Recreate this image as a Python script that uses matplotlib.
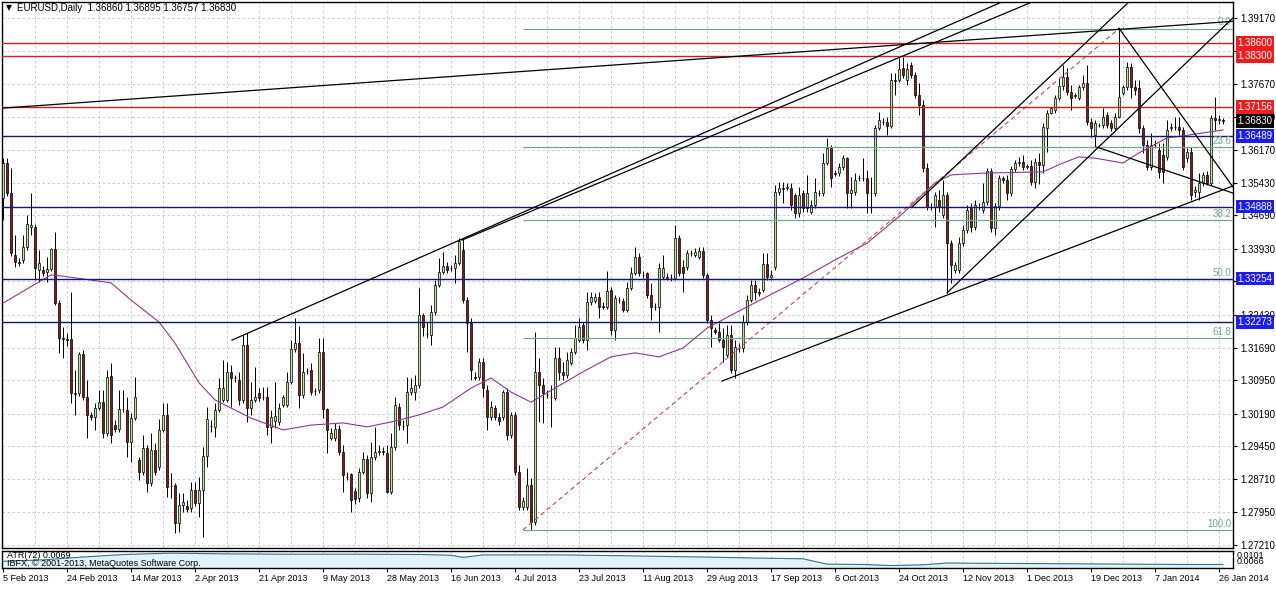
import matplotlib
matplotlib.use('Agg')
import matplotlib.pyplot as plt
import numpy as np

plt.rcParams['font.family'] = ['Liberation Sans', 'DejaVu Sans']

# daily EURUSD bars
opens = [
    1.3509, 1.3588, 1.3520, 1.3380, 1.3363, 1.3368, 1.3398, 1.3443, 1.3443, 1.3345,
    1.3345, 1.3341, 1.3347, 1.3393, 1.3270, 1.3191, 1.3188, 1.3188, 1.3066, 1.3066,
    1.3154, 1.3057, 1.3016, 1.3011, 1.3032, 1.3045, 1.2975, 1.3104, 1.2993, 1.2984,
    1.3030, 1.3027, 1.2955, 1.3009, 1.2914, 1.2887, 1.2941, 1.2862, 1.2937, 1.2898,
    1.2982, 1.3016, 1.2855, 1.2857, 1.2771, 1.2812, 1.2809, 1.2805, 1.2846, 1.2816,
    1.2846, 1.2923, 1.2991, 1.2989, 1.3027, 1.3050, 1.3050, 1.3114, 1.3100, 1.3095,
    1.3050, 1.3175, 1.3032, 1.3050, 1.3066, 1.3057, 1.3057, 1.2989, 1.3002, 1.3000,
    1.3039, 1.3039, 1.3091, 1.3166, 1.3179, 1.3061, 1.3116, 1.3118, 1.3070, 1.3073,
    1.3159, 1.3030, 1.2964, 1.2964, 1.2984, 1.2932, 1.2875, 1.2882, 1.2843, 1.2827,
    1.2887, 1.2916, 1.2839, 1.2921, 1.2932, 1.2934, 1.2930, 1.2841, 1.2944, 1.3034,
    1.2991, 1.2993, 1.3068, 1.3068, 1.3084, 1.3243, 1.3200, 1.3197, 1.3250, 1.3311,
    1.3341, 1.3354, 1.3350, 1.3350, 1.3361, 1.3391, 1.3277, 1.3225, 1.3102, 1.3102,
    1.3136, 1.3073, 1.3011, 1.3032, 1.3011, 1.3011, 1.3068, 1.2971, 1.3016, 1.2887,
    1.2807, 1.2807, 1.2857, 1.2773, 1.3114, 1.3084, 1.3061, 1.3057, 1.3055, 1.3145,
    1.3114, 1.3107, 1.3134, 1.3159, 1.3186, 1.3220, 1.3186, 1.3272, 1.3275, 1.3284,
    1.3263, 1.3261, 1.3300, 1.3209, 1.3277, 1.3275, 1.3254, 1.3304, 1.3338, 1.3375,
    1.3334, 1.3338, 1.3288, 1.3261, 1.3261, 1.3329, 1.3329, 1.3327, 1.3327, 1.3418,
    1.3352, 1.3352, 1.3384, 1.3379, 1.3375, 1.3388, 1.3334, 1.3232, 1.3209, 1.3204,
    1.3186, 1.3152, 1.3197, 1.3118, 1.3168, 1.3168, 1.3227, 1.3277, 1.3311, 1.3295,
    1.3300, 1.3359, 1.3329, 1.3352, 1.3522, 1.3531, 1.3531, 1.3531, 1.3515, 1.3475,
    1.3520, 1.3486, 1.3477, 1.3493, 1.3520, 1.3520, 1.3588, 1.3622, 1.3565, 1.3565,
    1.3579, 1.3600, 1.3520, 1.3522, 1.3554, 1.3554, 1.3554, 1.3520, 1.3520, 1.3668,
    1.3681, 1.3681, 1.3672, 1.3776, 1.3776, 1.3804, 1.3776, 1.3810, 1.3788, 1.3743,
    1.3720, 1.3577, 1.3488, 1.3488, 1.3504, 1.3470, 1.3515, 1.3406, 1.3345, 1.3345,
    1.3406, 1.3436, 1.3486, 1.3443, 1.3488, 1.3481, 1.3500, 1.3570, 1.3440, 1.3490,
    1.3554, 1.3549, 1.3520, 1.3575, 1.3588, 1.3590, 1.3579, 1.3581, 1.3545, 1.3590,
    1.3584, 1.3668, 1.3701, 1.3708, 1.3736, 1.3763, 1.3783, 1.3749, 1.3740, 1.3736,
    1.3761, 1.3770, 1.3681, 1.3652, 1.3674, 1.3674, 1.3697, 1.3679, 1.3668, 1.3693,
    1.3747, 1.3761, 1.3806, 1.3761, 1.3758, 1.3668, 1.3629, 1.3579, 1.3629, 1.3618,
    1.3606, 1.3602, 1.3668, 1.3670, 1.3670, 1.3663, 1.3600, 1.3613, 1.3522, 1.3522,
    1.3543, 1.3561, 1.3543, 1.3690, 1.3686, 1.3686,
]
highs = [
    1.3600, 1.3600, 1.3577, 1.3425, 1.3372, 1.3425, 1.3470, 1.3520, 1.3450, 1.3391,
    1.3354, 1.3375, 1.3395, 1.3431, 1.3277, 1.3216, 1.3202, 1.3295, 1.3118, 1.3159,
    1.3163, 1.3095, 1.3023, 1.3043, 1.3073, 1.3073, 1.3118, 1.3134, 1.3005, 1.3073,
    1.3073, 1.3057, 1.3020, 1.3102, 1.2921, 1.2971, 1.2948, 1.2975, 1.2952, 1.3007,
    1.3043, 1.3043, 1.2884, 1.2862, 1.2839, 1.2839, 1.2823, 1.2864, 1.2864, 1.2875,
    1.2944, 1.3034, 1.3005, 1.3043, 1.3100, 1.3141, 1.3136, 1.3129, 1.3107, 1.3114,
    1.3198, 1.3202, 1.3091, 1.3125, 1.3077, 1.3080, 1.3080, 1.3027, 1.3091, 1.3043,
    1.3061, 1.3114, 1.3186, 1.3236, 1.3218, 1.3157, 1.3123, 1.3134, 1.3077, 1.3191,
    1.3191, 1.3032, 1.2986, 1.2998, 1.2993, 1.2948, 1.2887, 1.2884, 1.2850, 1.2896,
    1.2932, 1.2925, 1.2955, 1.2989, 1.2948, 1.2944, 1.2948, 1.2975, 1.3057, 1.3043,
    1.3005, 1.3102, 1.3100, 1.3107, 1.3304, 1.3248, 1.3227, 1.3266, 1.3322, 1.3372,
    1.3386, 1.3363, 1.3356, 1.3379, 1.3418, 1.3418, 1.3284, 1.3236, 1.3114, 1.3145,
    1.3145, 1.3084, 1.3048, 1.3039, 1.3020, 1.3073, 1.3077, 1.3023, 1.3023, 1.2902,
    1.2830, 1.2896, 1.2873, 1.3204, 1.3145, 1.3100, 1.3073, 1.3084, 1.3170, 1.3170,
    1.3136, 1.3159, 1.3168, 1.3220, 1.3236, 1.3227, 1.3295, 1.3295, 1.3293, 1.3295,
    1.3272, 1.3343, 1.3307, 1.3288, 1.3284, 1.3281, 1.3318, 1.3352, 1.3398, 1.3384,
    1.3343, 1.3341, 1.3316, 1.3270, 1.3361, 1.3379, 1.3338, 1.3336, 1.3447, 1.3425,
    1.3368, 1.3391, 1.3391, 1.3395, 1.3398, 1.3398, 1.3338, 1.3243, 1.3216, 1.3225,
    1.3213, 1.3220, 1.3220, 1.3186, 1.3179, 1.3243, 1.3288, 1.3322, 1.3322, 1.3304,
    1.3384, 1.3384, 1.3345, 1.3538, 1.3545, 1.3545, 1.3543, 1.3543, 1.3520, 1.3534,
    1.3527, 1.3561, 1.3504, 1.3554, 1.3527, 1.3611, 1.3645, 1.3629, 1.3572, 1.3588,
    1.3606, 1.3602, 1.3556, 1.3565, 1.3561, 1.3600, 1.3572, 1.3556, 1.3674, 1.3704,
    1.3690, 1.3693, 1.3792, 1.3792, 1.3826, 1.3829, 1.3815, 1.3817, 1.3795, 1.3770,
    1.3731, 1.3588, 1.3497, 1.3522, 1.3527, 1.3549, 1.3522, 1.3413, 1.3363, 1.3420,
    1.3447, 1.3493, 1.3497, 1.3504, 1.3497, 1.3543, 1.3577, 1.3577, 1.3497, 1.3561,
    1.3558, 1.3561, 1.3581, 1.3595, 1.3602, 1.3606, 1.3586, 1.3595, 1.3600, 1.3611,
    1.3679, 1.3708, 1.3715, 1.3743, 1.3781, 1.3810, 1.3804, 1.3765, 1.3747, 1.3765,
    1.3788, 1.3810, 1.3690, 1.3686, 1.3679, 1.3713, 1.3704, 1.3686, 1.3701, 1.3894,
    1.3765, 1.3817, 1.3815, 1.3776, 1.3776, 1.3674, 1.3640, 1.3656, 1.3640, 1.3633,
    1.3633, 1.3686, 1.3679, 1.3693, 1.3693, 1.3670, 1.3622, 1.3624, 1.3536, 1.3565,
    1.3568, 1.3570, 1.3697, 1.3738, 1.3697, 1.36895,
]
lows = [
    1.3459, 1.3513, 1.3377, 1.3352, 1.3354, 1.3361, 1.3391, 1.3425, 1.3322, 1.3318,
    1.3331, 1.3318, 1.3343, 1.3266, 1.3156, 1.3145, 1.3172, 1.3043, 1.3016, 1.3059,
    1.3050, 1.2964, 1.3005, 1.2982, 1.3027, 1.2964, 1.2968, 1.2952, 1.2977, 1.2977,
    1.3023, 1.2921, 1.2909, 1.3005, 1.2868, 1.2880, 1.2841, 1.2855, 1.2880, 1.2891,
    1.2977, 1.2830, 1.2828, 1.2748, 1.2750, 1.2795, 1.2796, 1.2795, 1.2809, 1.2784,
    1.2739, 1.2898, 1.2977, 1.2966, 1.3023, 1.3045, 1.3045, 1.3034, 1.3091, 1.3039,
    1.3043, 1.3000, 1.3016, 1.3045, 1.3048, 1.3050, 1.2971, 1.2952, 1.2986, 1.2993,
    1.3034, 1.3034, 1.3086, 1.3159, 1.3032, 1.3055, 1.3109, 1.3061, 1.3061, 1.3066,
    1.3009, 1.2930, 1.2959, 1.2957, 1.2925, 1.2841, 1.2868, 1.2795, 1.2814, 1.2818,
    1.2882, 1.2827, 1.2818, 1.2914, 1.2925, 1.2925, 1.2839, 1.2837, 1.2937, 1.2982,
    1.2982, 1.2952, 1.3061, 1.3050, 1.3077, 1.3195, 1.3191, 1.3175, 1.3243, 1.3307,
    1.3336, 1.3338, 1.3343, 1.3316, 1.3356, 1.3270, 1.3159, 1.3095, 1.3095, 1.3095,
    1.3057, 1.2982, 1.3005, 1.3005, 1.2993, 1.3005, 1.2959, 1.2964, 1.2880, 1.2800,
    1.2800, 1.2800, 1.2755, 1.2766, 1.3000, 1.2998, 1.3055, 1.2989, 1.3050, 1.3095,
    1.3095, 1.3100, 1.3129, 1.3154, 1.3182, 1.3179, 1.3163, 1.3266, 1.3270, 1.3236,
    1.3256, 1.3256, 1.3197, 1.3186, 1.3270, 1.3250, 1.3250, 1.3300, 1.3334, 1.3331,
    1.3327, 1.3282, 1.3232, 1.3254, 1.3204, 1.3325, 1.3322, 1.3320, 1.3322, 1.3331,
    1.3295, 1.3345, 1.3377, 1.3375, 1.3370, 1.3327, 1.3225, 1.3170, 1.3200, 1.3182,
    1.3136, 1.3148, 1.3111, 1.3100, 1.3159, 1.3159, 1.3220, 1.3272, 1.3277, 1.3286,
    1.3295, 1.3322, 1.3322, 1.3345, 1.3515, 1.3497, 1.3527, 1.3481, 1.3463, 1.3466,
    1.3477, 1.3477, 1.3472, 1.3486, 1.3513, 1.3513, 1.3584, 1.3534, 1.3558, 1.3558,
    1.3572, 1.3486, 1.3486, 1.3515, 1.3547, 1.3547, 1.3474, 1.3474, 1.3513, 1.3663,
    1.3674, 1.3652, 1.3668, 1.3743, 1.3772, 1.3781, 1.3765, 1.3781, 1.3736, 1.3697,
    1.3568, 1.3481, 1.3481, 1.3443, 1.3477, 1.3463, 1.3293, 1.3316, 1.3338, 1.3338,
    1.3400, 1.3429, 1.3432, 1.3436, 1.3481, 1.3474, 1.3493, 1.3432, 1.3425, 1.3481,
    1.3543, 1.3504, 1.3513, 1.3568, 1.3581, 1.3572, 1.3575, 1.3538, 1.3531, 1.3540,
    1.3565, 1.3613, 1.3699, 1.3701, 1.3731, 1.3754, 1.3743, 1.3708, 1.3736, 1.3731,
    1.3754, 1.3674, 1.3647, 1.3624, 1.3670, 1.3668, 1.3668, 1.3661, 1.3661, 1.3690,
    1.3743, 1.3754, 1.3736, 1.3743, 1.3656, 1.3611, 1.3572, 1.3572, 1.3622, 1.3554,
    1.3543, 1.3595, 1.3661, 1.3663, 1.3652, 1.3572, 1.3591, 1.3504, 1.3511, 1.3504,
    1.3536, 1.3538, 1.3538, 1.3663, 1.3677, 1.36757,
]
closes = [
    1.3588, 1.3520, 1.3384, 1.3363, 1.3361, 1.3398, 1.3450, 1.3448, 1.3350, 1.3361,
    1.3338, 1.3347, 1.3393, 1.3270, 1.3191, 1.3188, 1.3186, 1.3066, 1.3064, 1.3154,
    1.3057, 1.3016, 1.3011, 1.3032, 1.3045, 1.2975, 1.3102, 1.2971, 1.2984, 1.3030,
    1.3029, 1.2955, 1.3009, 1.3057, 1.2887, 1.2941, 1.2862, 1.2937, 1.2887, 1.2982,
    1.3016, 1.2853, 1.2854, 1.2771, 1.2812, 1.2818, 1.2803, 1.2846, 1.2816, 1.2846,
    1.2923, 1.3007, 1.2990, 1.3027, 1.3077, 1.3077, 1.3114, 1.3100, 1.3099, 1.3050,
    1.3175, 1.3032, 1.3050, 1.3057, 1.3054, 1.3056, 1.2989, 1.3011, 1.3014, 1.3032,
    1.3057, 1.3091, 1.3166, 1.3179, 1.3061, 1.3114, 1.3115, 1.3068, 1.3071, 1.3159,
    1.3030, 1.2982, 1.2975, 1.2984, 1.2932, 1.2880, 1.2876, 1.2823, 1.2825, 1.2887,
    1.2916, 1.2839, 1.2921, 1.2932, 1.2934, 1.2933, 1.2841, 1.2944, 1.3039, 1.2993,
    1.2990, 1.3068, 1.3077, 1.3084, 1.3243, 1.3216, 1.3199, 1.3250, 1.3311, 1.3341,
    1.3354, 1.3345, 1.3349, 1.3361, 1.3411, 1.3277, 1.3225, 1.3118, 1.3101, 1.3136,
    1.3077, 1.3011, 1.3034, 1.3011, 1.3002, 1.3068, 1.2971, 1.3016, 1.2887, 1.2807,
    1.2821, 1.2857, 1.2773, 1.3114, 1.3084, 1.3066, 1.3062, 1.3056, 1.3145, 1.3114,
    1.3107, 1.3141, 1.3159, 1.3191, 1.3216, 1.3186, 1.3272, 1.3284, 1.3284, 1.3261,
    1.3262, 1.3297, 1.3209, 1.3281, 1.3276, 1.3254, 1.3304, 1.3338, 1.3375, 1.3338,
    1.3333, 1.3288, 1.3261, 1.3260, 1.3350, 1.3350, 1.3328, 1.3326, 1.3418, 1.3338,
    1.3338, 1.3384, 1.3383, 1.3386, 1.3388, 1.3334, 1.3232, 1.3213, 1.3204, 1.3186,
    1.3170, 1.3197, 1.3118, 1.3170, 1.3167, 1.3227, 1.3277, 1.3311, 1.3295, 1.3294,
    1.3359, 1.3329, 1.3334, 1.3522, 1.3531, 1.3530, 1.3534, 1.3493, 1.3475, 1.3515,
    1.3486, 1.3520, 1.3493, 1.3522, 1.3519, 1.3588, 1.3622, 1.3554, 1.3564, 1.3579,
    1.3600, 1.3520, 1.3527, 1.3549, 1.3553, 1.3555, 1.3520, 1.3519, 1.3668, 1.3686,
    1.3680, 1.3672, 1.3776, 1.3775, 1.3801, 1.3788, 1.3801, 1.3788, 1.3743, 1.3720,
    1.3577, 1.3488, 1.3487, 1.3515, 1.3488, 1.3515, 1.3406, 1.3356, 1.3357, 1.3406,
    1.3436, 1.3481, 1.3443, 1.3493, 1.3487, 1.3500, 1.3570, 1.3440, 1.3490, 1.3554,
    1.3549, 1.3520, 1.3575, 1.3588, 1.3590, 1.3579, 1.3581, 1.3545, 1.3590, 1.3584,
    1.3670, 1.3701, 1.3713, 1.3736, 1.3763, 1.3783, 1.3749, 1.3736, 1.3742, 1.3761,
    1.3770, 1.3681, 1.3668, 1.3679, 1.3675, 1.3693, 1.3674, 1.3668, 1.3693, 1.3738,
    1.3761, 1.3806, 1.3761, 1.3754, 1.3668, 1.3629, 1.3579, 1.3629, 1.3628, 1.3568,
    1.3568, 1.3663, 1.3670, 1.3669, 1.3663, 1.3579, 1.3613, 1.3515, 1.3527, 1.3543,
    1.3561, 1.3543, 1.3690, 1.3686, 1.3688, 1.3683,
]

# moving average (purple line), sampled along the curve
ma_bars = [0, 12, 15, 27, 32, 39, 43, 49, 53, 62, 70, 77, 85, 91, 97, 104, 110, 117, 122, 127,
           132, 138, 145, 152, 158, 164, 170, 176, 184, 200, 208, 216, 225, 233, 237, 245, 260,
           265, 269, 273, 280, 284, 291, 296, 305]
ma_vals = [1.3270, 1.3334, 1.3331, 1.3316, 1.3277, 1.3227, 1.3179, 1.3089, 1.3050, 1.3009,
           1.2982, 1.2993, 1.2998, 1.2989, 1.3000, 1.3016, 1.3034, 1.3077, 1.3100, 1.3068,
           1.3045, 1.3077, 1.3114, 1.3148, 1.3157, 1.3148, 1.3168, 1.3213, 1.3252, 1.3327,
           1.3368, 1.3406, 1.3474, 1.3543, 1.3561, 1.3565, 1.3568, 1.3588, 1.3602, 1.3599,
           1.3588, 1.3611, 1.3645, 1.3651, 1.3663]

# ATR(72) sub window
atr_bars = [0, 10, 20, 30, 42, 55, 70, 90, 105, 112, 115, 120, 140, 158, 175, 189, 200, 206,
            215, 222, 230, 236, 250, 265, 280, 295, 305]
atr_vals = [0.0078, 0.0082, 0.0090, 0.0097, 0.0101, 0.0099, 0.0098, 0.0098, 0.0097, 0.0095,
            0.0089, 0.0096, 0.0096, 0.0093, 0.0090, 0.0087, 0.0085, 0.0070, 0.0069, 0.0066,
            0.0068, 0.0073, 0.0072, 0.0071, 0.0070, 0.0069, 0.0069]

price_ticks = [1.39170, 1.38430, 1.37670, 1.36930, 1.36170, 1.35430, 1.34690, 1.33930, 1.33190,
               1.32430, 1.31690, 1.30950, 1.30190, 1.29450, 1.28710, 1.27950, 1.27210]
hidden_ticks = [1.38430, 1.33190]   # fully covered by the level tags
date_labels = ['5 Feb 2013', '24 Feb 2013', '14 Mar 2013', '2 Apr 2013', '21 Apr 2013',
               '9 May 2013', '28 May 2013', '16 Jun 2013', '4 Jul 2013', '23 Jul 2013',
               '11 Aug 2013', '29 Aug 2013', '17 Sep 2013', '6 Oct 2013', '24 Oct 2013',
               '12 Nov 2013', '1 Dec 2013', '19 Dec 2013', '7 Jan 2014', '26 Jan 2014']
date_bars = list(range(0, 305, 16))

red_levels = [1.38600, 1.38300, 1.37156]
blue_levels = [1.36489, 1.34888, 1.33254, 1.32273]
last_price = 1.36830

fib_start = (130, 1.2755)
fib_end = (279, 1.3893)
fib_ratios = [0.0, 23.6, 38.2, 50.0, 61.8, 100.0]

# hand drawn trend lines: (bar, price) anchors, extended to the right
trend_lines = [
    ((-1, 1.3712), (305, 1.3908)),
    ((57.25, 1.3186), (225.5, 1.3857)),
    ((114.75, 1.3413), (225.5, 1.3833)),
    ((179.75, 1.3093), (307.5, 1.3536)),
    ((236, 1.3293), (306.75, 1.3911)),
    ((227.25, 1.3488), (276.75, 1.3913)),
    ((279, 1.3894), (306.75, 1.3543)),
    ((273.5, 1.3624), (306.75, 1.3522)),
]

W, H = 1276, 589
fig = plt.figure(figsize=(W / 100, H / 100), dpi=100)
ax = fig.add_axes([2 / W, 1 - 548 / H, 1231 / W, 546 / H])
ax2 = fig.add_axes([2 / W, 1 - 568 / H, 1231 / W, 17 / H])

xmin, xmax = -0.25, 307.5
grid_kw = dict(color='#c4c4c4', lw=0.6, ls=(0, (3, 3)), zorder=1)
for a in (ax, ax2):
    a.set_xlim(xmin, xmax)
    for b in range(8, 306, 8):
        a.axvline(b, **grid_kw)
    for s in a.spines.values():
        s.set_linewidth(1.0)
for p in price_ticks:
    ax.axhline(p, **grid_kw)

# candles
o = np.array(opens)
h = np.array(highs)
l = np.array(lows)
c = np.array(closes)
x = np.arange(len(c))
up = c >= o
ax.vlines(x, l, h, color='black', lw=0.7, zorder=3)
body_lo = np.minimum(o, c)
body_h = np.abs(c - o)
ax.bar(x[up], body_h[up], bottom=body_lo[up], width=0.72, color='#b6e3a0',
       edgecolor='black', lw=0.5, zorder=4)
ax.bar(x[~up], body_h[~up], bottom=body_lo[~up], width=0.72, color='#7e1c1c',
       edgecolor='black', lw=0.5, zorder=4)

ax.plot(ma_bars, ma_vals, color='#8a3b8a', lw=0.8, zorder=5)

# fibonacci retracement
fib_col = '#74a88e'
span = fib_end[1] - fib_start[1]
for r in fib_ratios:
    p = fib_end[1] - r / 100 * span
    ax.hlines(p, fib_start[0], xmax, color=fib_col, lw=0.9, zorder=4.5)
    ax.text(xmax - 0.4, p + 0.0003, '%.1f' % r, color=fib_col, fontsize=7,
            ha='right', va='bottom', zorder=6)
ax.plot([fib_start[0], fib_end[0]], [fib_start[1], fib_end[1]], color='#c04848',
        lw=0.8, ls=(0, (4, 3)), zorder=5)

# support / resistance
for p in red_levels:
    ax.axhline(p, color='#cc2020', lw=1.0, zorder=5.5)
for p in blue_levels:
    ax.axhline(p, color='#14147a', lw=1.0, zorder=5.5)

for (x1, y1), (x2, y2) in trend_lines:
    k = (y2 - y1) / (x2 - x1)
    ax.plot([x1, 330], [y1, y1 + k * (330 - x1)], color='black', lw=0.9, zorder=6)

ax.set_ylim(1.2714, 1.39535)
ax.yaxis.tick_right()
ax.set_yticks(price_ticks)
ax.set_yticklabels(['' if p in hidden_ticks else '%.5f' % p for p in price_ticks])
ax.tick_params(axis='y', labelsize=7, length=3, pad=2, width=0.8)
ax.set_xticks([])

tag_tr = ax.get_yaxis_transform()
tags = [(p, '#ee1c1c') for p in red_levels] + [(p, '#1c1cee') for p in blue_levels] + \
       [(last_price, 'black')]
for p, col in tags:
    ax.text(1.0035, p, '%.5f' % p, transform=tag_tr, color='white', fontsize=7,
            ha='left', va='center', zorder=20, clip_on=False,
            bbox=dict(boxstyle='square,pad=0.18', fc=col, ec='none'))

# ATR window
ax2.set_ylim(0.0059, 0.0107)
ax2.fill_between(atr_bars, atr_vals, 0.0059, color='#e3f1f8', zorder=2)
ax2.plot(atr_bars, atr_vals, color='#3b6f8f', lw=0.8, zorder=3)
ax2.set_yticks([])
ax2.set_xticks(date_bars)
ax2.set_xticklabels(date_labels, ha='left', fontsize=6.5)
ax2.tick_params(axis='x', length=3, pad=1.5, width=0.8)

fig.text(6 / W, 1 - 8 / H, '\u25bc', fontsize=5.5, family='DejaVu Sans', va='center')
fig.text(17 / W, 1 - 8 / H, 'EURUSD,Daily  1.36860 1.36895 1.36757 1.36830',
         fontsize=7, va='center')
fig.text(7 / W, 1 - 556 / H, 'ATR(72) 0.0069', fontsize=6.5, va='center')
fig.text(7 / W, 1 - 563 / H, 'IBFX, \u00a9 2001-2013, MetaQuotes Software Corp.',
         fontsize=6.5, va='center')
fig.text(1237 / W, 1 - 555 / H, '0.0101', fontsize=6.5, va='center')
fig.text(1237 / W, 1 - 561 / H, '0.0066', fontsize=6.5, va='center')

fig.savefig('out.png', dpi=100)
